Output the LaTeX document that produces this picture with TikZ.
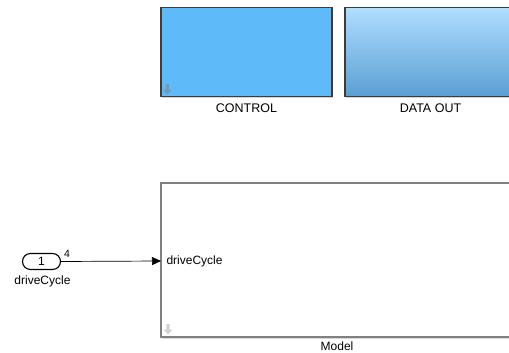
\documentclass[tikz,border=0pt]{standalone}
\usepackage{fontspec}
\setmainfont{Liberation Sans}
\usepackage{tikz}
\usetikzlibrary{arrows.meta,shapes.misc,shadows,calc}

\definecolor{ctrlblue}{HTML}{5FBAFA}
\definecolor{outtop}{HTML}{AFDEFE}
\definecolor{outmid}{HTML}{9DD0F6}
\definecolor{outbot}{HTML}{5A9FD4}
\definecolor{blkedge}{HTML}{3C3C3C}

\tikzset{
  blk/.style = {draw = blkedge, line width = 1.3pt, minimum width = 171pt, minimum height = 89pt,
    drop shadow = {shadow xshift = 1.2pt, shadow yshift = -1.5pt, opacity = 0.35}},
  lbl/.style = {font = \fontsize{12}{14}\selectfont},
  dnarrow/.pic = {\fill[#1] (-1.6,-5) rectangle (1.6,0.5) (-4.5,0.5) -- (4.5,0.5) -- (0,5.5) -- cycle;}
}

\begin{document}
\begin{tikzpicture}[x = 1pt, y = -1pt]

\useasboundingbox (0,0) rectangle (509,353);
\clip (0,0) rectangle (509,353);

\coordinate (ctrlc) at (246.5,52);
\coordinate (outc) at (430.5,52);
\coordinate (mdlnw) at (161,183);
\coordinate (mdlse) at (513,337);
\coordinate (inc) at (41.5,261.5);
\coordinate (mdlin) at (161,261);

\node[blk, fill = ctrlblue] (ctrl) at (ctrlc) {};
\node[blk, top color = outtop, middle color = outmid, bottom color = outbot] (dout) at (outc) {};
\draw[draw = gray, line width = 1.6pt, fill = white,
  drop shadow = {shadow xshift = 1pt, shadow yshift = -1.5pt, opacity = 0.3}] (mdlnw) rectangle (mdlse);
\coordinate (mdl) at ($(mdlnw)!0.5!(mdlse)$);

\pic at ($(ctrl.south west)+(7,-8)$) {dnarrow={gray!55!ctrlblue}};
\pic at ($(mdlnw|-mdlse)+(7,-8)$) {dnarrow={gray!35}};

\foreach \n/\t in {ctrl/CONTROL,dout/DATA OUT}
{\node[lbl, font = \fontsize{12.5}{14}\selectfont, anchor = north] (\n lbl) at ($(\n.south)+(0,3.5)$) {\t};}
\node[lbl, anchor = north] (mdllbl) at ($(mdl|-mdlse)+(0,1.5)$) {Model};

\node[draw, line width = 1.1pt, rounded rectangle, minimum width = 38pt, minimum height = 16pt,
  inner sep = 0pt, lbl] (in1) at (inc) {1};
\node[lbl, anchor = north] (in1lbl) at ($(in1.south)+(1,2.5)$) {driveCycle};
\node[lbl, anchor = west] (port1) at ($(mdlin)+(2,0)$) {driveCycle};

\draw[line width = 0.7pt, -{Triangle[length = 9pt, width = 8pt]}] (in1.east) -- (mdlin)
  node[pos = 0.06, above, lbl, font = \fontsize{10.5}{12}\selectfont] (dim1) {4};

\end{tikzpicture}
\end{document}
